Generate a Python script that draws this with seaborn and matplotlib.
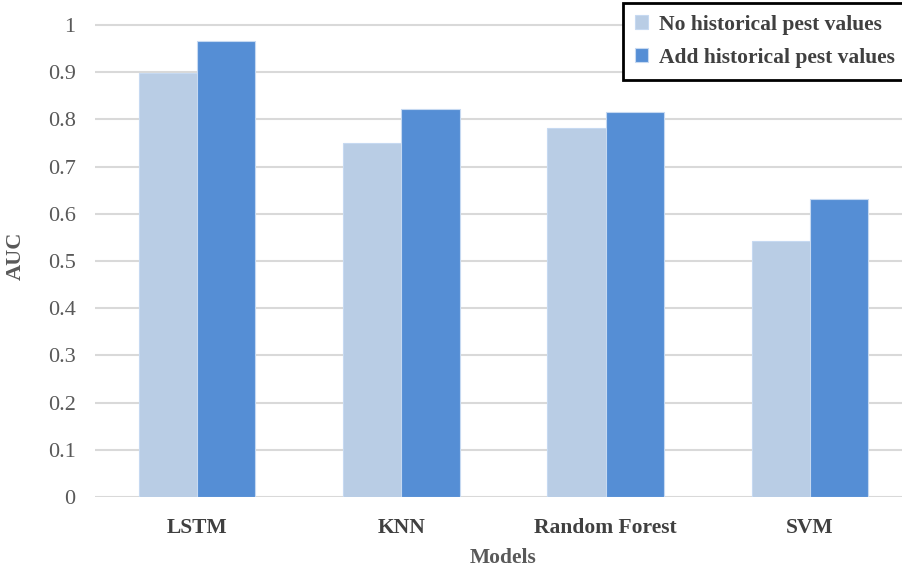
import pandas as pd
import matplotlib
matplotlib.use("Agg")
import matplotlib.pyplot as plt
import seaborn as sns

# values
models = ["LSTM", "KNN", "Random Forest", "SVM"]
series = ["No historical pest values", "Add historical pest values"]
auc_no_hist = [0.899, 0.750, 0.781, 0.543]
auc_with_hist = [0.966, 0.822, 0.816, 0.632]
y_ticks = [0, 0.1, 0.2, 0.3, 0.4, 0.5, 0.6, 0.7, 0.8, 0.9, 1]
y_tick_labels = ["0", "0.1", "0.2", "0.3", "0.4", "0.5", "0.6", "0.7", "0.8", "0.9", "1"]

df = pd.DataFrame({
    "Models": models * 2,
    "Series": [series[0]] * len(models) + [series[1]] * len(models),
    "AUC": auc_no_hist + auc_with_hist,
})

sns.set_style("white")
plt.rcParams["font.family"] = ["Liberation Serif", "DejaVu Serif"]

fig = plt.figure(figsize=(9.02, 5.66), dpi=100)
# plot area in figure coords (right edge runs past the picture like the reference)
ax = fig.add_axes([95 / 902, 69 / 566, 817 / 902, 1.02 * 472 / 566])

sns.barplot(data=df, x="Models", y="AUC", hue="Series", hue_order=series,
            palette=["#b9cde5", "#558ed5"], saturation=1, width=0.57, ax=ax,
            edgecolor="#c6d9f1", linewidth=0.8, zorder=3, legend=True)

ax.set_ylim(0, 1.02)
ax.set_xlim(-0.5, 3.5)
ax.set_yticks(y_ticks)
ax.set_yticklabels(y_tick_labels)
ax.grid(axis="y", color="#d9d9d9", linewidth=1.5, zorder=0)
ax.set_axisbelow(True)
for s in ax.spines.values():
    s.set_visible(False)

ax.tick_params(axis="y", length=0, labelsize=16, labelcolor="#595959", pad=14)
ax.tick_params(axis="x", length=0, labelsize=15.5, labelcolor="#404040", pad=15)
for lbl in ax.get_xticklabels():
    lbl.set_fontweight("bold")

ax.set_xlabel("Models", fontsize=15.5, fontweight="bold", color="#595959", labelpad=7)
ax.set_ylabel("AUC", fontsize=16, fontweight="bold", color="#595959", labelpad=16)

handles, labels = ax.get_legend_handles_labels()
ax.legend_.remove()
leg = fig.legend(handles, labels, loc="upper left", bbox_to_anchor=(623 / 902, 1 - 3 / 566),
                 frameon=True, fancybox=False, edgecolor="black", framealpha=1,
                 prop={"weight": "bold", "size": 15.5}, handlelength=0.6, handleheight=0.6,
                 handletextpad=0.5, labelspacing=0.6, borderpad=0.55, borderaxespad=0)
leg.get_frame().set_linewidth(2)
for t in leg.get_texts():
    t.set_color("#404040")

fig.savefig("out.png", dpi=100)
